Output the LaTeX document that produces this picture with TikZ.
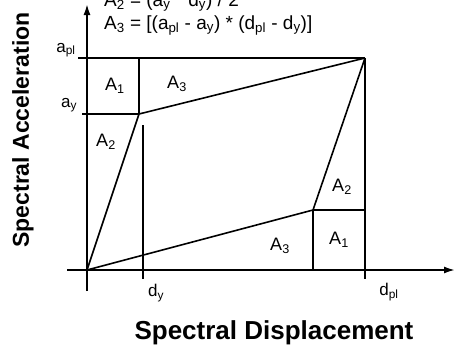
\documentclass[tikz,border=0pt]{standalone}
\usepackage{fontspec}
\setmainfont{Liberation Sans}
\usetikzlibrary{arrows.meta}
\begin{document}
\begin{tikzpicture}[x=1pt,y=-1pt,
  ln/.style={line width=1.6pt},
  axisln/.style={line width=1.8pt},
  lbl/.style={font=\fontsize{18}{20}\selectfont, inner sep=0pt},
  frm/.style={font=\fontsize{19}{21}\selectfont, inner sep=0pt},
  tick/.style={font=\fontsize{17}{19}\selectfont, inner sep=0pt},
  axtitle/.style={font=\fontsize{23}{27}\selectfont\bfseries, inner sep=0pt}]
\useasboundingbox (0,0) rectangle (466,348);
% key points
\coordinate (O) at (87,270);
\coordinate (Yp) at (139,114);
\coordinate (P) at (365,58);
\coordinate (Q) at (313,210);
\coordinate (apl0) at (78,58);
\coordinate (ay0) at (82,114);
\coordinate (dyTop) at (139,58);
\coordinate (dyLow) at (143,125);
\coordinate (dyBot) at (143,279);
\coordinate (Qr) at (365,210);
\coordinate (Qb) at (313,270);
\coordinate (dplBot) at (365,279);
\coordinate (yS) at (87,291);
\coordinate (yT) at (87,4);
\coordinate (xS) at (67,270);
\coordinate (xT) at (455,270);
% axes
\draw[axisln,-{Latex[length=11pt,width=7pt]}] (yS) -- (yT);
\draw[axisln,-{Latex[length=11pt,width=7pt]}] (xS) -- (xT);
% upper-left boxes
\draw[ln] (apl0) -- (P);
\draw[ln] (ay0) -- (Yp);
\draw[ln] (dyTop) -- (Yp);
\draw[ln] (dyLow) -- (dyBot);
% curves
\draw[ln] (O) -- (Yp) -- (P);
\draw[ln] (O) -- (Q) -- (P);
% lower-right boxes
\draw[ln] (Q) -- (Qr);
\draw[ln] (Q) -- (Qb);
\draw[ln] (P) -- (dplBot);
% area labels
\node[lbl] (A1a) at (115,86) {A\textsubscript{1}};
\node[lbl] (A3a) at (177,84) {A\textsubscript{3}};
\node[lbl] (A2a) at (106,142) {A\textsubscript{2}};
\node[lbl] (A2b) at (342,187) {A\textsubscript{2}};
\node[lbl] (A1b) at (339,240) {A\textsubscript{1}};
\node[lbl] (A3b) at (280,246) {A\textsubscript{3}};
% axis tick labels
\node[tick] (lapl) at (66,50) {a\textsubscript{pl}};
\node[tick] (lay) at (69,105) {a\textsubscript{y}};
\node[tick] (ldy) at (156,293) {d\textsubscript{y}};
\node[tick] (ldpl) at (389,292) {d\textsubscript{pl}};
% formulas
\node[frm, anchor=base west] (f1) at (104,6) {A\textsubscript{2} = (a\textsubscript{y} * d\textsubscript{y}) / 2};
\node[frm, anchor=base west] (f2) at (104,29) {A\textsubscript{3} = [(a\textsubscript{pl} - a\textsubscript{y}) * (d\textsubscript{pl} - d\textsubscript{y})]};
% axis titles
\node[axtitle, rotate=90] (ya) at (23,130) {Spectral Acceleration};
\node[axtitle, font=\fontsize{26}{30}\selectfont\bfseries] (xa) at (274,333) {Spectral Displacement};
\end{tikzpicture}
\end{document}
